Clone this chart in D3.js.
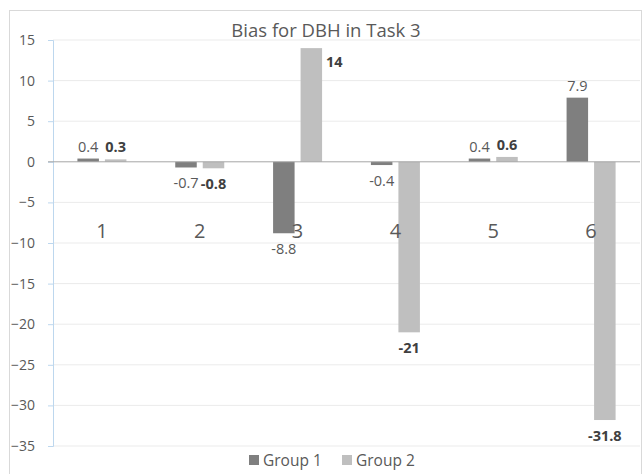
<!DOCTYPE html>
<html><head><meta charset="utf-8">
<script src="https://cdn.jsdelivr.net/npm/d3@7"></script>
<style>body{margin:0;background:#fff}svg{display:block}text{font-family:"Open Sans",sans-serif}</style>
</head><body>
<svg id="c" width="643" height="474"></svg>
<script>
const categories = ["1","2","3","4","5","6"];
const group1 = [0.4,-0.7,-8.8,-0.4,0.4,7.9];
const group2 = [0.3,-0.8,14,-21,0.6,-31.8];
const seriesNames = ["Group 1","Group 2"];
const yTicks = [15,10,5,0,-5,-10,-15,-20,-25,-30,-35];

(function(){
const svg = d3.select("#c");
const pL=53,pR=640,pT=40,pB=446;
const colors=["#7f7f7f","#bfbfbf"];
const textCol="#595959";

svg.append("rect").attr("x",9.5).attr("y",10.5).attr("width",632).attr("height",470)
  .attr("fill","#fff").attr("stroke","#d9d9d9");

const x=d3.scaleBand().domain(categories).range([pL,pR]);
const y=d3.scaleLinear().domain([-35,15]).range([pB,pT]);

svg.append("g").selectAll("line").data(yTicks.filter(t=>t!==0)).join("line")
  .attr("x1",pL).attr("x2",pR).attr("y1",d=>y(d)).attr("y2",d=>y(d))
  .attr("stroke","#ebebeb").attr("stroke-width",1);

const ya=svg.append("g").attr("transform",`translate(${pL},0)`)
  .call(d3.axisLeft(y).tickValues(yTicks).tickSize(5).tickPadding(13).tickFormat(d3.format("d")));
ya.select(".domain").attr("stroke","#bdd7ee");
ya.selectAll(".tick line").attr("stroke","#bdd7ee");
ya.selectAll("text").attr("fill",textCol).style("font-size","14px").style("font-family","'Open Sans',sans-serif");

const bw=21.5, gap=6;
const series=[group1,group2];
series.forEach((s,si)=>{
  const off = si===0 ? -gap/2-bw : gap/2;
  svg.append("g").selectAll("rect").data(s).join("rect")
    .attr("x",(d,i)=>x(categories[i])+x.bandwidth()/2+off)
    .attr("width",bw)
    .attr("y",d=>y(Math.max(0,d)))
    .attr("height",d=>Math.abs(y(d)-y(0)))
    .attr("fill",colors[si]);
});

svg.append("line").attr("x1",pL-5).attr("x2",pR).attr("y1",y(0)).attr("y2",y(0))
  .attr("stroke","#a6a6a6").attr("stroke-width",1);

svg.append("g").selectAll("text").data(categories).join("text")
  .attr("x",d=>x(d)+x.bandwidth()/2).attr("y",y(-8.7)+6)
  .attr("text-anchor","middle").attr("fill",textCol).style("font-size","20px").text(d=>d);

series.forEach((s,si)=>{
  const off = si===0 ? -gap/2-bw/2 : gap/2+bw/2;
  svg.append("g").selectAll("text").data(s).join("text")
    .attr("x",(d,i)=>{
      let cx=x(categories[i])+x.bandwidth()/2+off;
      if(si===1 && d>10) cx+=bw/2+4;
      return cx;
    })
    .attr("y",d=>{
      if(si===1 && d>10) return y(d)+19;
      return d>=0 ? y(d)-7 : y(d)+21;
    })
    .attr("text-anchor",d=>(si===1&&d>10)?"start":"middle")
    .attr("fill",si===0?textCol:"#404040")
    .style("font-weight",si===1?"bold":"normal")
    .style("font-size","14.5px").text(d=>String(d));
});

svg.append("text").attr("x",326).attr("y",37).attr("text-anchor","middle")
  .attr("fill",textCol).style("font-size","18.5px").text("Bias for DBH in Task 3");

const lg=svg.append("g").attr("transform","translate(249,461)");
seriesNames.forEach((n,i)=>{
  const g=lg.append("g").attr("transform",`translate(${i*93},0)`);
  g.append("rect").attr("x",0).attr("y",-6).attr("width",10).attr("height",10).attr("fill",colors[i]);
  g.append("text").attr("x",14).attr("y",5).attr("fill",textCol).style("font-size","15.5px").text(n);
});
})();
</script>
</body></html>
